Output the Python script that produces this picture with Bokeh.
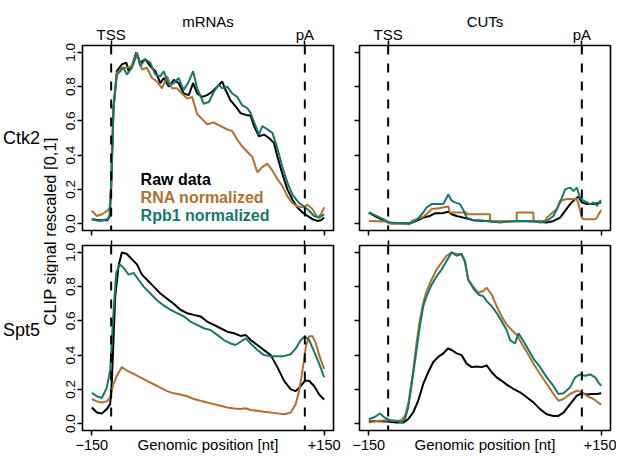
from math import pi
from bokeh.plotting import figure
from bokeh.models import Range1d, LinearAxis, FixedTicker, PrintfTickFormatter, Span, Label
from bokeh.layouts import row, column
from bokeh.embed import file_html
from bokeh.resources import INLINE

FONT = "Liberation Sans"
BLACK = "#000000"
BROWN = "#B0702F"
TEAL = "#14786A"

# ---------------- data ----------------
series_names = ["Raw data", "RNA normalized", "Rpb1 normalized"]
row_labels = ["Ctk2", "Spt5"]
col_labels = ["mRNAs", "CUTs"]
x_ticks = [-150, 150]
x_tick_labels = ["\u2212150", "+150"]
landmark_pos = [-125, 125]
landmark_labels = ["TSS", "pA"]
y_ticks = [0.0, 0.2, 0.4, 0.6, 0.8, 1.0]
x_title = "Genomic position [nt]"
y_title = "CLIP signal rescaled [0,1]"

# Ctk2 / mRNAs
ctk2_mrna_raw_x = [-150, -140, -130, -127, -125, -122, -117.6, -111.2, -105.5, -102.5, -98.2, -92.6, -87.4, -81, -74.5, -68, -61.5, -57.2, -50.7, -44.2, -37.8, -31.3, -24.8, -19.2, -14, -7.6, -1.1, 5.4, 11.9, 18.3, 22.7, 29.1, 35.6, 42.1, 48.6, 55, 59.4, 65.8, 72.3, 78.8, 85.3, 89.6, 96, 102.5, 109, 115.5, 121.9, 128.4, 134.9, 141.4, 145.7, 150]
ctk2_mrna_raw_y = [0.026, 0.02, 0.02, 0.04, 0.21, 0.67, 0.89, 0.93, 0.94, 0.89, 0.92, 1.0, 0.94, 0.96, 0.92, 0.89, 0.82, 0.85, 0.80, 0.84, 0.82, 0.76, 0.75, 0.82, 0.76, 0.74, 0.75, 0.77, 0.80, 0.83, 0.78, 0.72, 0.685, 0.645, 0.635, 0.63, 0.57, 0.51, 0.52, 0.50, 0.47, 0.39, 0.29, 0.20, 0.14, 0.094, 0.065, 0.045, 0.026, 0.016, 0.02, 0.035]
ctk2_mrna_rna_x = [-150, -143.5, -137, -130, -127, -125, -122, -117.6, -111.2, -104.7, -98.2, -91.7, -85.3, -78.8, -72.3, -65.8, -59.4, -52.9, -46.4, -39.9, -33.5, -27, -20.5, -14, -7.6, -1.1, 7.6, 16.2, 24.8, 31.3, 37.8, 44.2, 50.7, 57.2, 63.7, 70.1, 76.6, 83.1, 89.6, 96, 102.5, 109, 115.5, 121.9, 128.4, 134.9, 141.4, 145.7, 150]
ctk2_mrna_rna_y = [0.075, 0.045, 0.055, 0.075, 0.094, 0.25, 0.67, 0.88, 0.91, 0.91, 0.92, 1.0, 0.90, 0.91, 0.85, 0.83, 0.79, 0.86, 0.79, 0.79, 0.76, 0.73, 0.74, 0.64, 0.61, 0.58, 0.59, 0.57, 0.55, 0.54, 0.49, 0.45, 0.42, 0.39, 0.30, 0.33, 0.35, 0.31, 0.26, 0.22, 0.16, 0.12, 0.10, 0.095, 0.11, 0.085, 0.035, 0.055, 0.095]
ctk2_mrna_rpb1_x = [-150, -140, -130, -127, -125, -122, -117.6, -113.3, -109, -104.7, -98.2, -91.7, -87.4, -81, -74.5, -68, -61.5, -57.2, -50.7, -44.2, -37.8, -31.3, -24.8, -19.2, -14, -5.4, 1.1, 7.6, 14, 18.3, 24.8, 31.3, 37.8, 44.2, 50.7, 55, 61.5, 65.8, 70.1, 76.6, 83.1, 89.6, 96, 102.5, 109, 117.6, 124.1, 130.6, 137, 143.5, 150]
ctk2_mrna_rpb1_y = [0.026, 0.016, 0.026, 0.045, 0.21, 0.69, 0.87, 0.89, 0.91, 0.87, 0.91, 0.99, 0.92, 0.96, 0.94, 0.87, 0.86, 0.89, 0.81, 0.82, 0.85, 0.78, 0.83, 0.89, 0.79, 0.70, 0.71, 0.77, 0.81, 0.79, 0.80, 0.76, 0.74, 0.69, 0.675, 0.645, 0.57, 0.52, 0.57, 0.55, 0.53, 0.44, 0.33, 0.24, 0.17, 0.12, 0.10, 0.075, 0.045, 0.035, 0.055]

# Ctk2 / CUTs
ctk2_cut_raw_x = [-150, -140.1, -131.5, -122.8, -97, -88.4, -79.7, -71.1, -64.7, -56, -47.4, -43.1, -36.6, -28, -15.1, 10.8, 41, 62.5, 79.7, 88.4, 97, 103.4, 109.9, 116.4, 120.7, 125, 131.5, 140.1, 148.7, 150]
ctk2_cut_raw_y = [0.065, 0.039, 0.02, 0.004, 0.002, 0.016, 0.035, 0.045, 0.06, 0.06, 0.07, 0.055, 0.045, 0.035, 0.02, 0.012, 0.016, 0.012, 0.006, 0.016, 0.035, 0.075, 0.114, 0.144, 0.157, 0.124, 0.114, 0.114, 0.124, 0.124]
ctk2_cut_rna_x = [-150, -127.2, -122.8, -97, -94.8, -88.4, -79.7, -75.4, -69, -60, -47.4, -45.3, -23.7, -23.7, 6.5, 6.5, 41, 41, 62.5, 62.5, 77.6, 79.7, 92.7, 97, 105.6, 118.5, 120.7, 125, 127.2, 142.2, 144.4, 150]
ctk2_cut_rna_y = [0.016, 0.012, 0.0, 0.0, 0.016, 0.026, 0.04, 0.055, 0.085, 0.09, 0.10, 0.065, 0.065, 0.055, 0.055, 0.016, 0.016, 0.065, 0.065, 0.016, 0.016, 0.035, 0.085, 0.134, 0.144, 0.144, 0.114, 0.035, 0.026, 0.026, 0.035, 0.08]
ctk2_cut_rpb1_x = [-150, -146.6, -140.1, -131.5, -122.8, -97, -88.4, -79.7, -75.4, -69, -60.3, -53.9, -47.4, -43.1, -38.8, -32.3, -28, -23.7, -15.1, 2.2, 19.4, 41, 62.5, 71.1, 79.7, 88.4, 97, 103.4, 109.9, 114.2, 118.5, 122.8, 127.2, 131.5, 135.8, 140.1, 144.4, 148.7, 150]
ctk2_cut_rpb1_y = [0.065, 0.059, 0.045, 0.026, 0.006, 0.0, 0.02, 0.065, 0.094, 0.114, 0.114, 0.114, 0.17, 0.134, 0.124, 0.114, 0.08, 0.035, 0.02, 0.016, 0.006, 0.016, 0.016, 0.006, 0.016, 0.045, 0.124, 0.20, 0.21, 0.19, 0.21, 0.15, 0.134, 0.124, 0.114, 0.124, 0.104, 0.134, 0.134]

# Spt5 / mRNAs
spt5_mrna_raw_x = [-150, -143.5, -137, -130.6, -126.3, -124.1, -119.8, -115.5, -111.2, -104.7, -98.2, -91.7, -85.3, -78.8, -70.1, -61.5, -52.9, -44.2, -35.6, -27, -18.3, -9.7, -1.1, 7.6, 16.2, 24.8, 33.4, 42.1, 48.6, 55, 63.7, 72.3, 80.9, 89.6, 98.2, 106.8, 113.3, 119.8, 125, 130.6, 137, 143.5, 150]
spt5_mrna_raw_y = [0.094, 0.065, 0.059, 0.085, 0.114, 0.25, 0.74, 0.92, 1.0, 0.99, 0.96, 0.93, 0.87, 0.84, 0.80, 0.76, 0.73, 0.70, 0.665, 0.645, 0.635, 0.626, 0.596, 0.577, 0.557, 0.537, 0.528, 0.512, 0.518, 0.488, 0.459, 0.429, 0.40, 0.33, 0.25, 0.20, 0.19, 0.22, 0.25, 0.25, 0.22, 0.17, 0.14]
spt5_mrna_rna_x = [-150, -143.5, -137, -130.6, -126.3, -122, -117.6, -111.2, -104.7, -96, -87.4, -78.8, -70.1, -61.5, -52.9, -44.2, -35.6, -27, -18.3, -9.7, -1.1, 7.6, 16.2, 24.8, 33.4, 42.1, 48.6, 55, 63.7, 72.3, 80.9, 89.6, 98.2, 106.8, 113.3, 117.6, 121.9, 126.3, 130.6, 134.9, 139.2, 143.5, 150]
spt5_mrna_rna_y = [0.144, 0.13, 0.124, 0.13, 0.154, 0.23, 0.28, 0.33, 0.31, 0.29, 0.27, 0.25, 0.23, 0.21, 0.19, 0.177, 0.17, 0.16, 0.144, 0.134, 0.124, 0.114, 0.104, 0.094, 0.089, 0.085, 0.09, 0.08, 0.075, 0.069, 0.065, 0.06, 0.055, 0.065, 0.114, 0.19, 0.31, 0.45, 0.51, 0.51, 0.47, 0.40, 0.32]
spt5_mrna_rpb1_x = [-150, -143.5, -137, -130.6, -126.3, -122, -118.5, -114.2, -109, -102.5, -96, -89.6, -83.1, -74.5, -65.8, -57.2, -48.6, -39.9, -31.3, -22.7, -14, -5.4, 3.2, 11.9, 20.5, 29.1, 35.6, 42.1, 48.6, 55, 63.7, 72.3, 80.9, 89.6, 98.2, 106.8, 113.3, 119.8, 125, 130.6, 137, 143.5, 150]
spt5_mrna_rpb1_y = [0.18, 0.16, 0.15, 0.21, 0.31, 0.65, 0.88, 0.93, 0.91, 0.87, 0.88, 0.84, 0.80, 0.76, 0.72, 0.69, 0.665, 0.645, 0.626, 0.596, 0.577, 0.557, 0.547, 0.518, 0.488, 0.468, 0.459, 0.478, 0.498, 0.468, 0.43, 0.40, 0.394, 0.394, 0.394, 0.405, 0.439, 0.488, 0.508, 0.488, 0.42, 0.35, 0.27]

# Spt5 / CUTs
spt5_cut_raw_x = [-150, -140.1, -127.2, -114.2, -105.6, -99.1, -92.7, -86.2, -79.7, -73.3, -66.8, -60.3, -53.9, -47.4, -43.1, -36.6, -30.2, -23.7, -17.2, -10.8, -4.3, 2.2, 8.6, 15.1, 21.6, 28, 36.6, 45.3, 53.9, 62.5, 71.1, 79.7, 88.4, 94.8, 101.3, 109.9, 118.5, 125, 131.5, 137.9, 144.4, 150]
spt5_cut_raw_y = [0.012, 0.016, 0.012, 0.006, 0.006, 0.026, 0.065, 0.134, 0.232, 0.30, 0.36, 0.39, 0.41, 0.44, 0.43, 0.41, 0.40, 0.35, 0.33, 0.334, 0.33, 0.34, 0.30, 0.27, 0.25, 0.228, 0.203, 0.183, 0.154, 0.124, 0.085, 0.055, 0.045, 0.045, 0.065, 0.114, 0.163, 0.177, 0.17, 0.173, 0.173, 0.177]
spt5_cut_rna_x = [-150, -140.1, -127.2, -114.2, -107.8, -103.4, -99.1, -92.7, -88.4, -84.1, -79.7, -75.4, -69, -62.5, -56, -49.6, -43.1, -36.6, -30.2, -25.9, -21.6, -15.1, -8.6, -2.2, 2.2, 8.6, 15.1, 21.6, 28, 34.5, 40.9, 47.4, 53.9, 62.5, 71.1, 79.7, 88.4, 94.8, 101.3, 109.9, 118.5, 125, 131.5, 140.1, 150]
spt5_cut_rna_y = [0.006, 0.016, 0.02, 0.016, 0.02, 0.045, 0.114, 0.31, 0.47, 0.606, 0.705, 0.774, 0.84, 0.90, 0.94, 0.98, 1.0, 0.99, 0.99, 0.94, 0.84, 0.80, 0.764, 0.774, 0.793, 0.754, 0.685, 0.626, 0.577, 0.547, 0.518, 0.468, 0.419, 0.35, 0.29, 0.232, 0.173, 0.134, 0.144, 0.173, 0.193, 0.183, 0.163, 0.144, 0.11]
spt5_cut_rpb1_x = [-150, -142.2, -135.8, -129.3, -122.8, -114.2, -107.8, -103.4, -99.1, -92.7, -88.4, -84.1, -79.7, -75.4, -69, -62.5, -56, -49.6, -43.1, -36.6, -30.2, -25.9, -21.6, -15.1, -8.6, -2.2, 2.2, 8.6, 15.1, 21.6, 28, 32.3, 38.8, 43.1, 47.4, 53.9, 62.5, 71.1, 79.7, 88.4, 94.8, 101.3, 109.9, 116.4, 122.8, 129.3, 135.8, 142.2, 146.6, 150]
spt5_cut_rpb1_y = [0.026, 0.039, 0.059, 0.035, 0.02, 0.016, 0.006, 0.026, 0.094, 0.29, 0.43, 0.57, 0.685, 0.744, 0.81, 0.86, 0.90, 0.95, 1.0, 0.98, 0.99, 0.95, 0.84, 0.79, 0.754, 0.744, 0.715, 0.685, 0.646, 0.597, 0.547, 0.488, 0.468, 0.527, 0.498, 0.449, 0.38, 0.33, 0.27, 0.22, 0.173, 0.177, 0.213, 0.27, 0.287, 0.28, 0.287, 0.27, 0.24, 0.22]

COLORS = [BLACK, BROWN, TEAL]


def make_panel(curves, top_text, left_labels, bottom_labels, top_labels, legend,
               fw, fh, bl, br, bt, bb):
    p = figure(frame_width=fw, frame_height=fh,
               x_range=Range1d(-162, 162), y_range=Range1d(-0.04, 1.04),
               output_backend="svg", toolbar_location=None, tools="",
               x_axis_location=None, y_axis_location=None,
               min_border_left=bl, min_border_right=br,
               min_border_top=bt, min_border_bottom=bb,
               background_fill_color="white", border_fill_color="white")
    p.grid.visible = False
    p.outline_line_color = "black"
    p.outline_line_width = 1.6

    def style(ax, show, size):
        ax.axis_line_color = None
        ax.major_tick_in = 0
        ax.major_tick_out = 5
        ax.major_tick_line_width = 1.5
        ax.major_tick_line_color = "black"
        ax.minor_tick_line_color = None
        ax.major_label_text_font = FONT
        ax.major_label_text_font_size = size
        ax.major_label_standoff = 1
        ax.major_label_text_color = "black" if show else None
        ax.axis_label_text_font = FONT
        ax.axis_label_text_font_style = "normal"
        ax.axis_label_text_color = "black"

    bottom = LinearAxis(ticker=FixedTicker(ticks=x_ticks),
                        major_label_overrides=dict(zip(x_ticks, x_tick_labels)))
    style(bottom, bottom_labels, "14.5px")
    if bottom_labels:
        bottom.major_label_standoff = 4
        bottom.axis_label = x_title
        bottom.axis_label_text_font_size = "15px"
        bottom.axis_label_standoff = -17
    p.add_layout(bottom, "below")

    top = LinearAxis(ticker=FixedTicker(ticks=landmark_pos),
                     major_label_overrides=dict(zip(landmark_pos, landmark_labels)))
    style(top, top_labels, "15px")
    top.major_label_standoff = -2
    if top_text is not None:
        top.axis_label = top_text
        top.axis_label_text_font_size = "15px"
        top.axis_label_standoff = -7
    p.add_layout(top, "above")

    left = LinearAxis(ticker=FixedTicker(ticks=y_ticks),
                      formatter=PrintfTickFormatter(format="%.1f"))
    style(left, left_labels, "13.5px")
    left.major_label_orientation = "vertical"
    left.major_label_standoff = 2
    p.add_layout(left, "left")

    for loc in landmark_pos:
        p.add_layout(Span(location=loc, dimension="height", line_color="black",
                          line_width=2, line_dash="9 9"))

    for (xs, ys), c in zip(curves, COLORS):
        p.line(xs, ys, line_color=c, line_width=2)

    if legend:
        for name, c, yy in zip(series_names, COLORS, [0.258, 0.153, 0.048]):
            p.add_layout(Label(x=-87, y=yy, text=name, text_font=FONT,
                               text_font_size="16px", text_font_style="bold",
                               text_align="left", text_baseline="middle",
                               text_color=c))
    return p


p_tl = make_panel([(ctk2_mrna_raw_x, ctk2_mrna_raw_y), (ctk2_mrna_rna_x, ctk2_mrna_rna_y),
                   (ctk2_mrna_rpb1_x, ctk2_mrna_rpb1_y)],
                  col_labels[0], True, False, True, True, 251, 185, 24, 13, 45, 7)
p_tr = make_panel([(ctk2_cut_raw_x, ctk2_cut_raw_y), (ctk2_cut_rna_x, ctk2_cut_rna_y),
                   (ctk2_cut_rpb1_x, ctk2_cut_rpb1_y)],
                  col_labels[1], False, False, True, False, 251, 185, 13, 6, 45, 7)
p_bl = make_panel([(spt5_mrna_raw_x, spt5_mrna_raw_y), (spt5_mrna_rna_x, spt5_mrna_rna_y),
                   (spt5_mrna_rpb1_x, spt5_mrna_rpb1_y)],
                  None, True, True, False, False, 251, 185, 24, 13, 8, 26)
p_br = make_panel([(spt5_cut_raw_x, spt5_cut_raw_y), (spt5_cut_rna_x, spt5_cut_rna_y),
                   (spt5_cut_rpb1_x, spt5_cut_rpb1_y)],
                  None, False, True, False, False, 251, 185, 13, 6, 8, 26)

# side strip carrying the row names and the shared y-axis title
side = figure(frame_width=58, frame_height=456, x_range=Range1d(0, 58), y_range=Range1d(0, 456),
              output_backend="svg", toolbar_location=None, tools="",
              x_axis_location=None, y_axis_location=None, min_border=0,
              outline_line_color=None, background_fill_color="white", border_fill_color="white")
side.grid.visible = False
for txt, yy in zip(row_labels, [319, 127]):
    side.add_layout(Label(x=21, y=yy, text=txt, text_font=FONT, text_font_size="18px",
                          text_align="center", text_baseline="middle", text_color="black"))
side.add_layout(Label(x=49, y=225, text=y_title, text_font=FONT, text_font_size="16.5px",
                      text_align="center", text_baseline="middle", angle=pi / 2,
                      text_color="black"))

layout = row(side, column(row(p_tl, p_tr), row(p_bl, p_br)))
open("out.html", "w").write(file_html(layout, INLINE))
